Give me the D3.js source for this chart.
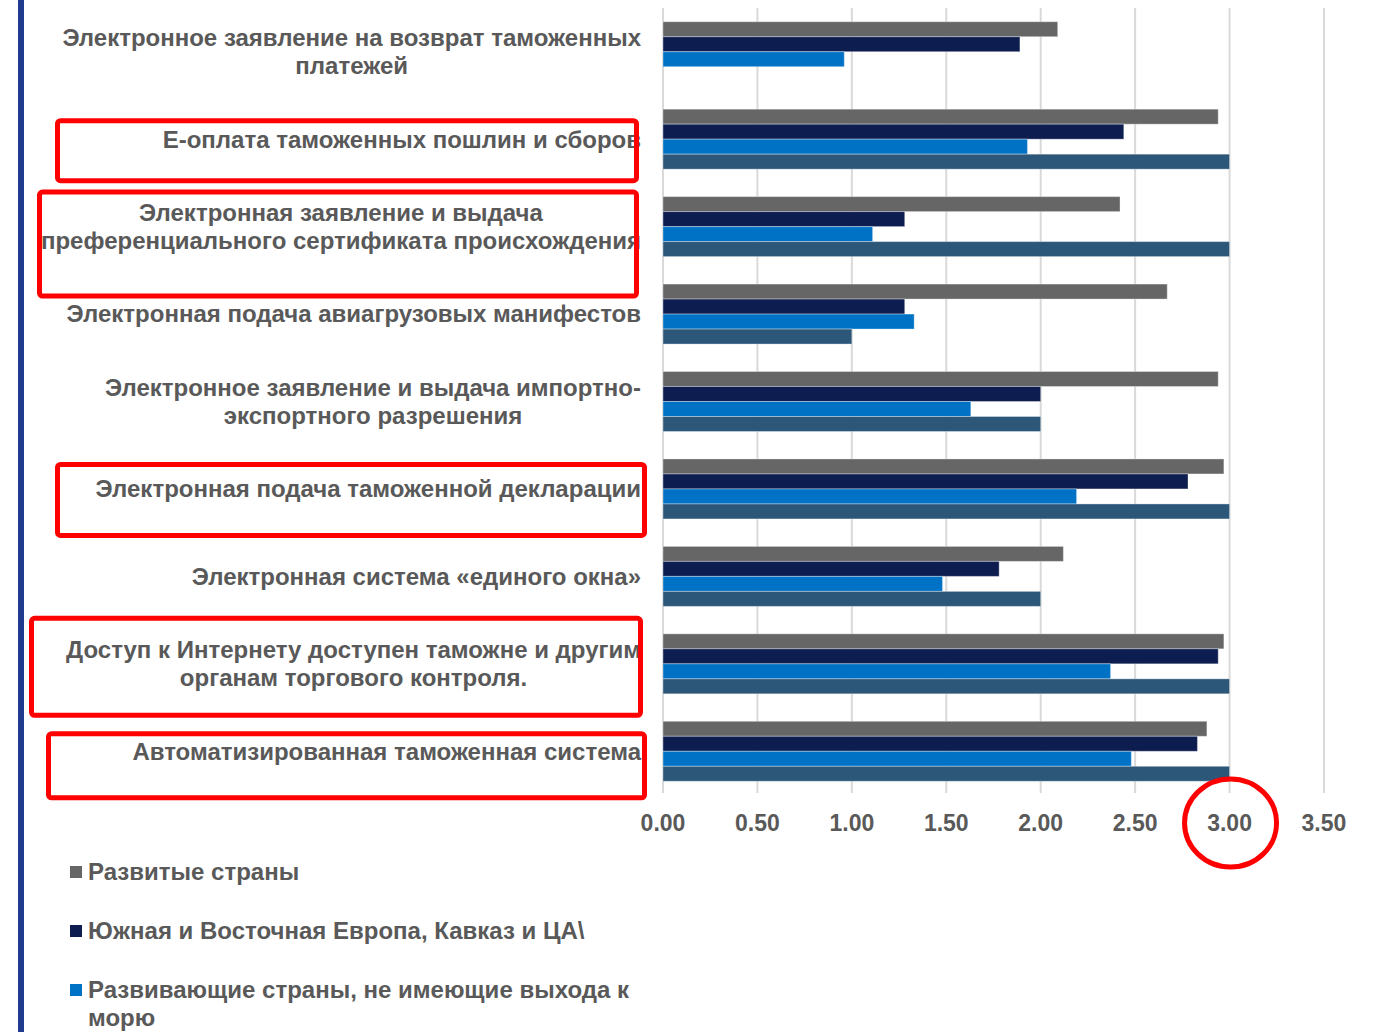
<!DOCTYPE html>
<html>
<head>
<meta charset="utf-8">
<script src="https://cdn.jsdelivr.net/npm/d3@7"></script>
<style>
  body { margin: 0; background: #fff; }
  svg text { font-family: "Liberation Sans", Arial, sans-serif; font-weight: bold; fill: #595959; }
</style>
</head>
<body>
<div id="chart-wrap"></div>
<script>
const width = 1374;
const height = 1032;

// categories top to bottom, "\n" = line break as in the picture
const categories = [
    "Электронное заявление на возврат таможенных\nплатежей",
    "Е-оплата таможенных пошлин и сборов",
    "Электронная заявление и выдача\nпреференциального сертификата происхождения",
    "Электронная подача авиагрузовых манифестов",
    "Электронное заявление и выдача импортно-\nэкспортного разрешения",
    "Электронная подача таможенной декларации",
    "Электронная система «единого окна»",
    "Доступ к Интернету доступен таможне и другим\nорганам торгового контроля.",
    "Автоматизированная таможенная система"
];

const seriesNames = [
    "Развитые страны",
    "Южная и Восточная Европа, Кавказ и ЦА\\",
    "Развивающие страны, не имеющие выхода к\nморю",
    "Ряд 4"
];
const seriesColors = ["#666666", "#0d1d50", "#0072c6", "#2c5779"];

const developed   = [2.09, 2.94, 2.42, 2.67, 2.94, 2.97, 2.12, 2.97, 2.88];
const seeCaucasus = [1.89, 2.44, 1.28, 1.28, 2.00, 2.78, 1.78, 2.94, 2.83];
const landlocked  = [0.96, 1.93, 1.11, 1.33, 1.63, 2.19, 1.48, 2.37, 2.48];
const series4     = [null, 3.00, 3.00, 1.00, 2.00, 3.00, 2.00, 3.00, 3.00];

const xTicks = [0, 0.5, 1, 1.5, 2, 2.5, 3, 3.5];

// red hand-drawn highlight boxes: category index, left, right, top/bottom offset from band start
const highlights = [
    {cat: 1, x0: 55, x1: 639, dy0: 9, dy1: 74},
    {cat: 2, x0: 37, x1: 639, dy0: -7, dy1: 102},
    {cat: 5, x0: 55, x1: 647, dy0: 3, dy1: 79},
    {cat: 7, x0: 29, x1: 643, dy0: -18, dy1: 84},
    {cat: 8, x0: 46, x1: 647, dy0: 10, dy1: 79}
];
const circledTick = 3;

const margin = {top: 8, bottom: 237, left: 663, right: 50};
const labelRight = 641;

const rows = categories.map((c, i) => ({
    name: c,
    values: [developed[i], seeCaucasus[i], landlocked[i], series4[i]]
}));

const svg = d3.select('#chart-wrap')
    .append('svg')
    .attr('width', width)
    .attr('height', height)
    .attr('viewBox', [0, 0, width, height]);

const x = d3.scaleLinear()
    .domain([0, 3.5])
    .range([margin.left, margin.left + 3.5 * 188.85]);

const y = d3.scaleBand()
    .domain(d3.range(categories.length))
    .range([margin.top, height - margin.bottom])
    .paddingInner(0.314)
    .paddingOuter(0.157);

const ySub = d3.scaleBand()
    .domain(d3.range(seriesNames.length))
    .range([0, y.bandwidth()]);

// slide edge line
svg.append('rect')
    .attr('x', 18).attr('y', 0)
    .attr('width', 6).attr('height', height)
    .attr('fill', '#1f3a8f');

// gridlines
svg.append('g')
    .selectAll('line')
    .data(xTicks)
    .join('line')
        .attr('x1', d => x(d)).attr('x2', d => x(d))
        .attr('y1', margin.top).attr('y2', height - margin.bottom - 2)
        .attr('stroke', '#d9d9d9')
        .attr('stroke-width', 2);

// bars
const groups = svg.append('g')
    .selectAll('g')
    .data(rows)
    .join('g')
        .attr('transform', (d, i) => `translate(0, ${y(i)})`);

groups.selectAll('rect')
    .data(d => d.values.map((v, k) => ({v, k})).filter(e => e.v != null))
    .join('rect')
        .attr('x', x(0))
        .attr('y', e => ySub(e.k))
        .attr('width', e => x(e.v) - x(0))
        .attr('height', ySub.bandwidth())
        .attr('fill', e => seriesColors[e.k])
        .attr('stroke', 'rgba(255,255,255,0.35)')
        .attr('stroke-width', 1);

// category labels, block right aligned, lines centred on each other
const lineH = 28;
svg.append('g')
    .selectAll('text')
    .data(rows)
    .join('text')
        .attr('font-size', 24)
        .attr('text-anchor', 'middle')
        .each(function(d, i) {
            const lines = d.name.split('\n');
            const t = d3.select(this);
            const cy = y(i) + y.bandwidth() / 2;
            lines.forEach((ln, j) => {
                t.append('tspan')
                    .attr('y', cy + (j - (lines.length - 1) / 2) * lineH)
                    .attr('dy', '0.35em')
                    .text(ln);
            });
            let maxW = 0;
            t.selectAll('tspan').each(function() {
                maxW = Math.max(maxW, this.getComputedTextLength());
            });
            t.selectAll('tspan').attr('x', labelRight - maxW / 2);
        });

// x axis tick labels
svg.append('g')
    .selectAll('text')
    .data(xTicks)
    .join('text')
        .attr('x', d => x(d))
        .attr('y', height - margin.bottom + 28)
        .attr('dy', '0.35em')
        .attr('text-anchor', 'middle')
        .attr('font-size', 23)
        .text(d => d3.format('.2f')(d));

// legend (only the first three entries fit on the slide)
const legend = svg.append('g')
    .selectAll('g')
    .data(seriesNames.slice(0, 3))
    .join('g')
        .attr('transform', (d, i) => `translate(70, ${872 + i * 59})`);

legend.append('rect')
    .attr('x', 0).attr('y', -6)
    .attr('width', 12).attr('height', 12)
    .attr('fill', (d, i) => seriesColors[i]);

legend.append('text')
    .attr('font-size', 24)
    .each(function(d) {
        const t = d3.select(this);
        d.split('\n').forEach((ln, j) => {
            t.append('tspan')
                .attr('x', 18)
                .attr('y', j * lineH)
                .attr('dy', '0.35em')
                .text(ln);
        });
    });

// red annotations on top
svg.append('g')
    .selectAll('rect')
    .data(highlights)
    .join('rect')
        .attr('x', h => h.x0 + 2.5)
        .attr('y', h => y(h.cat) + h.dy0 + 2.5)
        .attr('width', h => h.x1 - h.x0 - 5)
        .attr('height', h => h.dy1 - h.dy0 - 5)
        .attr('rx', 3)
        .attr('fill', 'none')
        .attr('stroke', '#ff0000')
        .attr('stroke-width', 5);

svg.append('ellipse')
    .attr('cx', x(circledTick) + 1)
    .attr('cy', height - margin.bottom + 28)
    .attr('rx', 46)
    .attr('ry', 44)
    .attr('fill', 'none')
    .attr('stroke', '#ff0000')
    .attr('stroke-width', 5);
</script>
</body>
</html>
